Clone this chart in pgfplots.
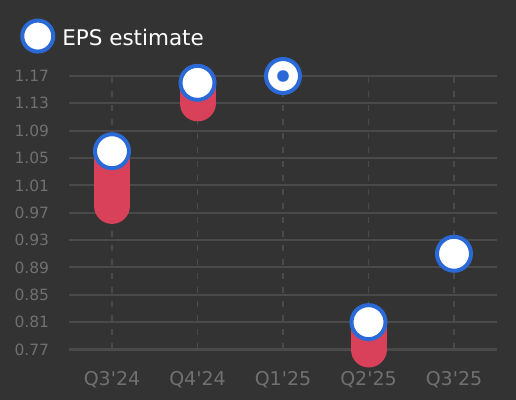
\documentclass[border=0pt]{standalone}
\usepackage{fontspec}
\setmainfont{DejaVu Sans}[Ligatures=TeXOff]
\usepackage{pgfplots}
\pgfplotsset{compat=1.18}

\definecolor{bg}{HTML}{333333}
\definecolor{gridc}{HTML}{4A4A4A}
\definecolor{tickc}{HTML}{707070}
\definecolor{barred}{HTML}{D9405A}
\definecolor{ringblue}{HTML}{2B6AD6}

\begin{document}
\begin{tikzpicture}
\fill[bg] (0,0) rectangle (516bp,400bp);
\begin{axis}[
    at={(69.25bp,50.5bp)}, anchor=south west,
    scale only axis,
    width=427.5bp, height=273.5bp,
    xmin=-0.5, xmax=4.5,
    ymin=0.77, ymax=1.17,
    clip=false,
    axis line style={draw=none},
    major tick length=0pt,
    xtick={0,1,2,3,4},
    xticklabels={Q3'24,Q4'24,Q1'25,Q2'25,Q3'25},
    ytick={0.77,0.81,0.85,0.89,0.93,0.97,1.01,1.05,1.09,1.13,1.17},
    /pgf/number format/assume math mode=true,
    yticklabel style={font=\fontsize{15.5bp}{18bp}\selectfont, text=tickc,
        anchor=east, inner sep=0pt, xshift=-20bp,
        /pgf/number format/fixed, /pgf/number format/fixed zerofill,
        /pgf/number format/precision=2},
    xticklabel style={font=\fontsize{19bp}{22bp}\selectfont, text=tickc,
        anchor=base, inner sep=0pt, yshift=-35.5bp},
    ymajorgrids, xmajorgrids,
    y grid style={gridc, line width=2bp},
    x grid style={gridc, line width=1.8bp, dash pattern=on 6bp off 8bp},
    legend style={at={(axis description cs:-0.1146,1.146)}, anchor=west,
        draw=none, fill=none, inner sep=0pt, outer sep=0pt,
        text=white, font=\fontsize{21.5bp}{25bp}\selectfont,
        nodes={inner sep=0pt},
        /tikz/every odd column/.append style={column sep=7bp}},
    legend image code/.code={\draw[ringblue, fill=white, line width=4bp] (0bp,2bp) circle (15.5bp);},
]
% surprise ranges: estimate -> actual
\addplot[barred, line width=36bp, line cap=round, forget plot] coordinates {(0,1.06) (0,0.98)};
\addplot[barred, line width=36bp, line cap=round, forget plot] coordinates {(1,1.16) (1,1.13)};
\addplot[barred, line width=36bp, line cap=round, forget plot] coordinates {(3,0.81) (3,0.77)};

\addplot[only marks, mark=*, mark size=17bp,
    mark options={fill=white, draw=ringblue, line width=4bp}]
    coordinates {(0,1.06) (1,1.16) (2,1.17) (3,0.81) (4,0.91)};
\addlegendentry{EPS estimate}

% actual equal to estimate
\addplot[only marks, mark=*, mark size=5.7bp,
    mark options={fill=ringblue, draw=ringblue, line width=0.1bp}, forget plot]
    coordinates {(2,1.17)};
\end{axis}
\pgfresetboundingbox
\useasboundingbox (0,0) rectangle (516bp,400bp);
\end{tikzpicture}
\end{document}
